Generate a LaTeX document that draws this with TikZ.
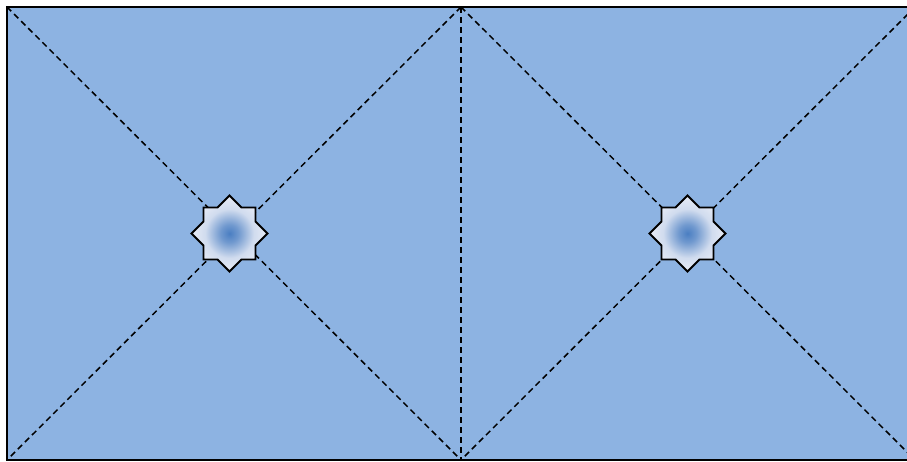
\documentclass[tikz,border=0pt]{standalone}
\usetikzlibrary{calc}
\definecolor{panelblue}{HTML}{8DB3E2}
\definecolor{starcore}{HTML}{4A7EC2}
\definecolor{starrim}{HTML}{E8ECF6}
\pgfdeclareradialshading{starglow}{\pgfpoint{0bp}{0bp}}{%
  color(0bp)=(starcore); color(6bp)=(starcore!75!starrim); color(16bp)=(starrim!85!starcore); color(25bp)=(starrim); color(50bp)=(starrim)}
\tikzset{
  panel/.style={fill=panelblue, draw=black, line width=2pt},
  guide/.style={draw=black, line width=1.5pt, dash pattern=on 6pt off 4pt},
  starshape/.style={draw=black, line width=1.8pt, shading=starglow},
}
\newcommand{\eightstar}[1]{%
  \path[starshape] ($(#1)+(38,0)$) -- ++(-12,12) -- ++(0,14) -- ++(-14,0) -- ++(-12,12)
    -- ++(-12,-12) -- ++(-14,0) -- ++(0,-14) -- ++(-12,-12)
    -- ++(12,-12) -- ++(0,-14) -- ++(14,0) -- ++(12,-12)
    -- ++(12,12) -- ++(14,0) -- ++(0,14) -- cycle;}
\begin{document}
\begin{tikzpicture}[x=1pt,y=-1pt]
  \useasboundingbox (0,0) rectangle (907,462);
  \clip (0,0) rectangle (907,462);
  \coordinate (tl) at (7,7);
  \coordinate (tm) at (461,7);
  \coordinate (tr) at (915,7);
  \coordinate (bl) at (7,460);
  \coordinate (bm) at (461,460);
  \coordinate (br) at (915,460);
  \path[panel] (tl) rectangle (br);
  \draw[guide] (tl) -- (bm);
  \draw[guide] (tm) -- (bl);
  \draw[guide] (tm) -- (bm);
  \draw[guide] (tm) -- (br);
  \draw[guide] (tr) -- (bm);
  \coordinate (s1) at (229.5,233.5);
  \coordinate (s2) at (687.5,233.5);
  \eightstar{s1}
  \eightstar{s2}
\end{tikzpicture}
\end{document}
